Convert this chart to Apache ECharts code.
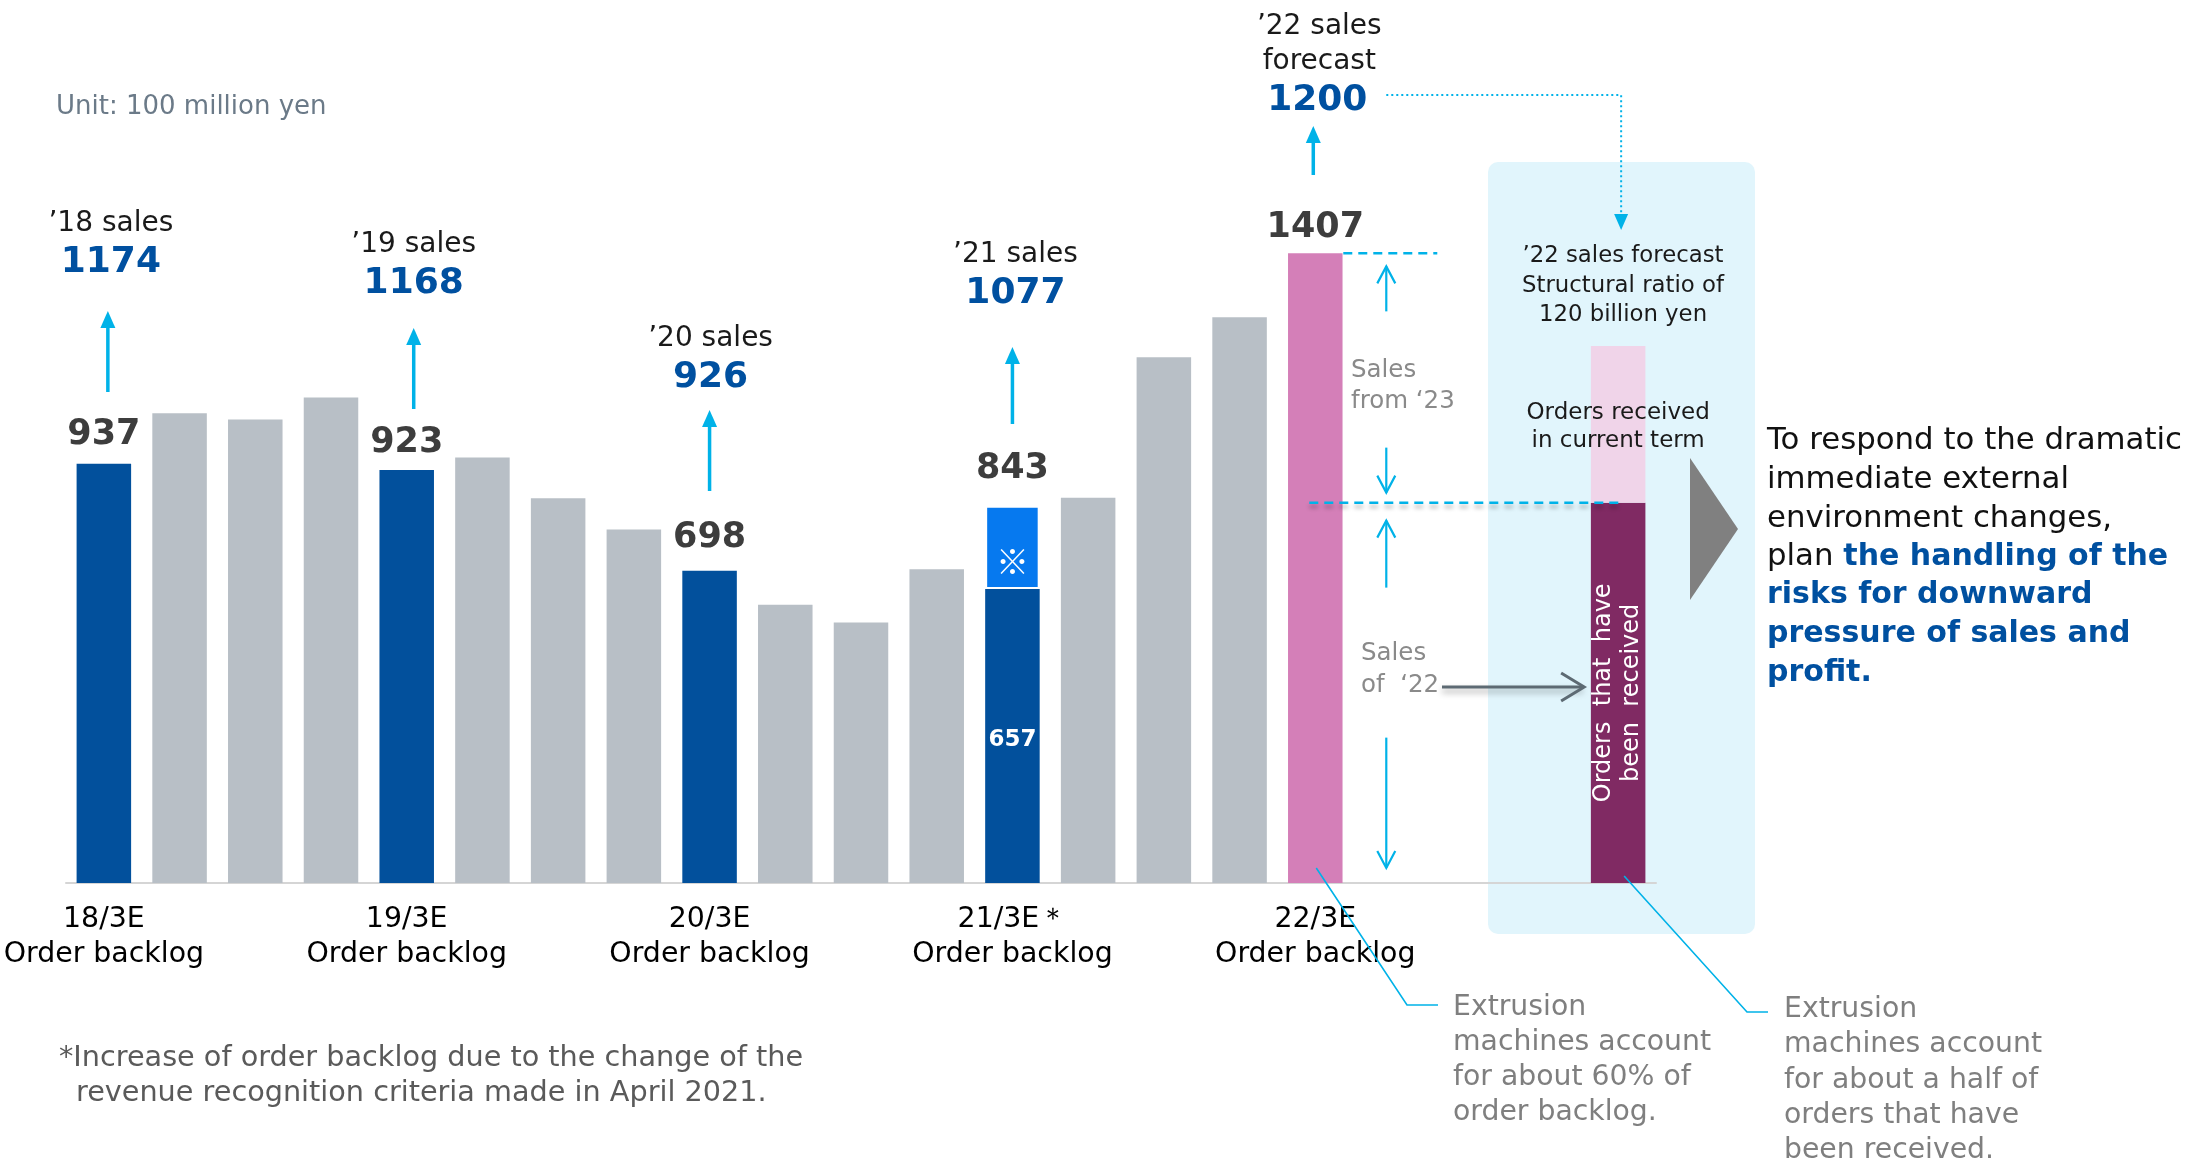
<!DOCTYPE html>
<html><head><meta charset="utf-8">
<script src="https://cdn.jsdelivr.net/npm/echarts@6/dist/echarts.min.js"></script>
<style>html,body{margin:0;padding:0;background:#fff}#c{width:2195px;height:1160px}</style>
</head><body><div id="c"></div>
<script>
// ---------------- data ----------------
const categories = ['18/3E','','','','19/3E','','','','20/3E','','','','21/3E＊','','','','22/3E','','','',''];
const backlog = [937,1050,1036,1085,923,951,860,790,698,622,582,701,657,861,1175,1264,1407,null,null,null,null];
const backlogRevised = [null,null,null,null,null,null,null,null,null,null,null,null,843,null,null,null,null,null,null,null,null];
const ordersReceived = [null,null,null,null,null,null,null,null,null,null,null,null,null,null,null,null,null,null,null,null,850];
const ordersCurrentTerm = [null,null,null,null,null,null,null,null,null,null,null,null,null,null,null,null,null,null,null,null,350];
const salesNames = ['’18 sales','’19 sales','’20 sales','’21 sales'];
const salesValues = [1174,1168,926,1077];
const salesIdx = [0,4,8,12];
const forecastName = ['’22 sales','forecast'];
const forecastValue = 1200;

// ---------------- style ----------------
const F = '"DejaVu Sans", Verdana, sans-serif';
const C = {blue:'#02509c', gray:'#b8bfc6', pink:'#d47fb8', bright:'#0679ef', purple:'#802a63',
  lpink:'#f0d4e9', cyan:'#00b2e8', num:'#0050a0', val:'#3d3d3d', box:'#e1f5fc'};
const labelGap = {0:11, 4:10, 8:15, 16:8};
const DY = 3;

const lastYearIdx = categories.reduce((a,c,i)=> c ? i : a, -1);

const backlogItems = backlog.map((v,i)=>{
  if (v == null) return '-';
  const annual = categories[i] !== '';
  let color = annual ? C.blue : C.gray;
  if (i === lastYearIdx) color = C.pink;
  const item = {value:v, itemStyle:{color}};
  if (annual) {
    if (backlogRevised[i] != null) {
      item.label = {show:true, position:'inside', formatter:String(v), color:'#fff', fontWeight:'bold', fontSize:23, offset:[0,4], fontFamily:F};
    } else {
      item.label = {show:true, position:'top', distance:labelGap[i], formatter:String(v), color:C.val,
        fontWeight:'bold', fontSize:35, lineHeight:35, fontFamily:F};
    }
  }
  return item;
});
const changeItems = backlogRevised.map((r,i)=> r == null ? '-' : r - backlog[i]);

const chart = echarts.init(document.getElementById('c'), null, {renderer:'canvas'});
const option = {
  animation:false,
  backgroundColor:'#fff',
  grid:{left:66, width:1590, top:167, bottom:277, containLabel:false},
  xAxis:{type:'category', data:categories,
    axisLine:{show:true, lineStyle:{color:'#d5d5d5', width:2}},
    axisTick:{show:false},
    axisLabel:{interval:0, margin:19, color:'#000', fontSize:28.4, lineHeight:35, fontFamily:F,
      formatter: v => v ? v + '\nOrder backlog' : ''}},
  yAxis:{type:'value', min:0, max:1600, show:false, splitLine:{show:false}},
  series:[
    {type:'bar', name:'backlog', stack:'a', barWidth:'72%', data:backlogItems, z:3},
    {type:'bar', name:'change', stack:'a', data:changeItems, z:3,
      itemStyle:{color:C.bright, borderColor:'#fff', borderWidth:2},
      label:{show:true, position:'inside', formatter:'※', color:'#fff', fontSize:33, offset:[0,14], fontFamily:'"Noto Sans CJK JP", ' + F}},
    {type:'bar', name:'received', stack:'a', data:ordersReceived.map(v=>v==null?'-':v), z:3,
      itemStyle:{color:C.purple},
      label:{show:true, position:'inside', rotate:90, formatter:'Orders  that  have\nbeen  received',
        color:'#fff', fontSize:24, lineHeight:28, fontFamily:F}},
    {type:'bar', name:'current', stack:'a', data:ordersCurrentTerm.map(v=>v==null?'-':v), z:3,
      itemStyle:{color:C.lpink},
      label:{show:true, position:'inside', formatter:'Orders received\nin current term', offset:[0,3],
        color:'#1a1a1a', fontSize:23, lineHeight:28, fontFamily:F}},
    {type:'scatter', name:'revisedTotal', data:backlogRevised.map(v=>v==null?'-':v), symbolSize:0,
      itemStyle:{color:C.val, opacity:1}, z:4,
      label:{show:true, position:'top', distance:19, formatter:p=>String(p.value), color:C.val, opacity:1,
        fontWeight:'bold', fontSize:35, lineHeight:35, fontFamily:F}}
  ]
};
chart.setOption(option);

// ---------------- annotations ----------------
const px = i => chart.convertToPixel({xAxisIndex:0}, i);
const py = v => chart.convertToPixel({yAxisIndex:0}, v);
const G = [];
function txt(x, y, text, o){
  o = o || {};
  G.push({type:'text', z:o.z||20, style:Object.assign({text, x, y:y+DY, fill:o.fill||'#1a1a1a',
    font:o.font||('28px '+F), align:o.align||'center', verticalAlign:o.va||'middle',
    textAlign:o.align||'center', textVerticalAlign:o.va||'middle', lineHeight:o.lh}, o.extra||{})});
}
function line(x1,y1,x2,y2,st){
  G.push({type:'line', z:st.z||15, shape:{x1,y1,x2,y2}, style:Object.assign({stroke:C.cyan, lineWidth:2}, st)});
}
function filledUp(x, tail, tip, w, h, lw){
  line(x, tail, x, tip + h - 2, {lineWidth:lw});
  G.push({type:'polygon', z:15, shape:{points:[[x-w/2, tip+h],[x+w/2, tip+h],[x, tip]]}, style:{fill:C.cyan}});
}
function openV(x, tail, tip){
  line(x, tail, x, tip, {lineWidth:2.2});
  const d = tip < tail ? 1 : -1;
  G.push({type:'polyline', z:15, shape:{points:[[x-9, tip + d*17],[x, tip],[x+9, tip + d*17]]},
    style:{stroke:C.cyan, lineWidth:2.2, fill:null}});
}

// background box
G.push({type:'rect', z:-5, shape:{x:1488, y:162, width:267, height:772, r:10}, style:{fill:C.box}});

// unit
txt(56, 104, 'Unit: 100 million yen', {align:'left', fill:'#6b7a88', font:'26px '+F});

// sales annotations
const annY = [[221,260,311,392],[242,281,328,409],[336,375,410,491],[252,291,347,424]];
const annDx = [7,7,1,3];
const arrDx = [4,7,0,0];
salesIdx.forEach((ci,k)=>{
  const x = px(ci);
  txt(x+annDx[k], annY[k][0], salesNames[k], {font:'28px '+F});
  txt(x+annDx[k], annY[k][1], String(salesValues[k]), {font:'bold 36px '+F, fill:C.num});
  filledUp(x+arrDx[k], annY[k][3], annY[k][2], 15, 17, 3.5);
});
// forecast
{
  const x = px(lastYearIdx);
  txt(x+4, 24, forecastName[0], {font:'28px '+F});
  txt(x+4, 59, forecastName[1], {font:'28px '+F});
  txt(x+2, 98, String(forecastValue), {font:'bold 36px '+F, fill:C.num});
  filledUp(x-2, 175, 126, 15, 17, 3.5);
  const bx = px(categories.length-1);
  G.push({type:'polyline', z:15, shape:{points:[[x+71,95],[bx+3,95],[bx+3,214]]},
    style:{stroke:C.cyan, lineWidth:2, lineDash:[2,3], fill:null}});
  G.push({type:'polygon', z:15, shape:{points:[[bx-4,214],[bx+10,214],[bx+3,230]]}, style:{fill:C.cyan}});
}

// dashed reference lines near forecast bar
{
  const xp = px(lastYearIdx), bx = px(categories.length-1);
  const yTop = py(backlog[lastYearIdx]);
  const yRec = py(ordersReceived[categories.length-1]);
  line(xp+28, yTop, xp+122, yTop, {lineWidth:2.5, lineDash:[9,6]});
  line(xp-6, yRec, bx+1, yRec, {lineWidth:2.5, lineDash:[9,6], shadowColor:'rgba(0,0,0,0.3)', shadowBlur:4, shadowOffsetY:4});
  const ax = xp + 71;
  openV(ax, yTop+58, yTop+13);
  openV(ax, yRec-55, yRec-10);
  openV(ax, yRec+85, yRec+18);
  openV(ax, yRec+235, py(0)-15);
  txt(1351, 352, 'Sales\nfrom ‘23', {align:'left', va:'top', fill:'#8a8a8a', font:'24.5px '+F, lh:31});
  txt(1361, 635, 'Sales\nof  ‘22', {align:'left', va:'top', fill:'#8a8a8a', font:'24.5px '+F, lh:32});
  const gy = 687;
  G.push({type:'line', z:16, shape:{x1:1442, y1:gy, x2:bx-35, y2:gy},
    style:{stroke:'#5d6a73', lineWidth:3, shadowColor:'rgba(0,0,0,0.35)', shadowBlur:6, shadowOffsetY:4}});
  G.push({type:'polyline', z:16, shape:{points:[[bx-57,gy-14],[bx-34,gy],[bx-57,gy+14]]},
    style:{stroke:'#5d6a73', lineWidth:3, fill:null}});
}

// box title
txt(1623, 283, '’22 sales forecast\nStructural ratio of\n120 billion yen', {font:'22.8px '+F, lh:29.5});

// big triangle
G.push({type:'polygon', z:10, shape:{points:[[1690,458],[1690,600],[1738,529]]}, style:{fill:'#808080'}});

// right message
G.push({type:'text', z:20, style:{x:1767, y:419+DY, align:'left', verticalAlign:'top', textAlign:'left', textVerticalAlign:'top',
  text:'{n|To respond to the dramatic}\n{n|immediate external}\n{n|environment changes,}\n{n|plan }{b|the handling of the}\n{b|risks for downward}\n{b|pressure of sales and}\n{b|profit.}',
  rich:{n:{fontSize:30.8, fontFamily:F, fill:'#111', color:'#111', lineHeight:38.6},
        b:{fontSize:30, fontFamily:F, fontWeight:'bold', fill:C.num, color:C.num, lineHeight:38.6}}}});

// callouts
{
  const xp = px(lastYearIdx), bx = px(categories.length-1);
  G.push({type:'polyline', z:16, shape:{points:[[xp+1,868],[1407,1005],[1438,1005]]}, style:{stroke:C.cyan, lineWidth:1.6, fill:null}});
  G.push({type:'polyline', z:16, shape:{points:[[bx+6,876],[1747,1012],[1768,1012]]}, style:{stroke:C.cyan, lineWidth:1.6, fill:null}});
  txt(1453, 987, 'Extrusion\nmachines account\nfor about 60% of\norder backlog.', {align:'left', va:'top', fill:'#7f7f7f', font:'28.3px '+F, lh:35});
  txt(1784, 989, 'Extrusion\nmachines account\nfor about a half of\norders that have\nbeen received.', {align:'left', va:'top', fill:'#7f7f7f', font:'28.3px '+F, lh:35.3});
}

// footnote
txt(59, 1056, '*Increase of order backlog due to the change of the', {align:'left', fill:'#5a5a5a', font:'28.7px '+F});
txt(76, 1091, 'revenue recognition criteria made in April 2021.', {align:'left', fill:'#5a5a5a', font:'28.7px '+F});

chart.setOption({graphic:{elements:G}});
</script>
</body></html>
